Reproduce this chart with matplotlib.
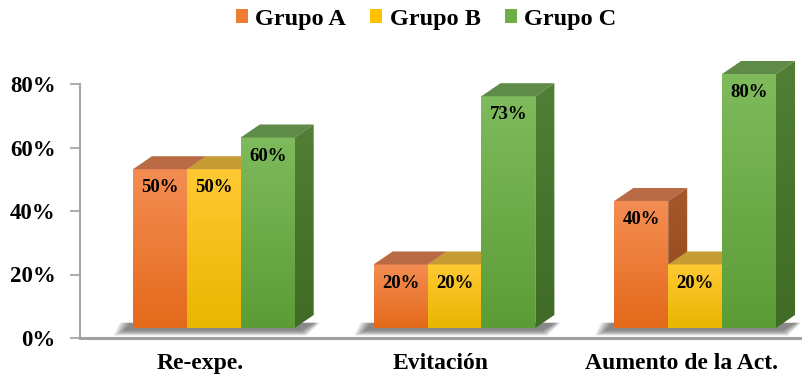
import matplotlib
matplotlib.use("Agg")
import matplotlib.pyplot as plt
import numpy as np
from matplotlib.patches import Polygon, Patch
from matplotlib.colors import LinearSegmentedColormap

# ---------------- data ----------------
categories = ["Re-expe.", "Evitación", "Aumento de la Act."]
series_names = ["Grupo A", "Grupo B", "Grupo C"]
grupo_a = [0.50, 0.20, 0.40]
grupo_b = [0.50, 0.20, 0.20]
grupo_c = [0.60, 0.73, 0.80]
y_ticks = [0.0, 0.2, 0.4, 0.6, 0.8]
y_tick_labels = ["0%", "20%", "40%", "60%", "80%"]

# ---------------- style ----------------
legend_colors = ["#ED7D31", "#FFC000", "#70AD47"]
front_top = ["#F48D53", "#FFC933", "#7FBA5C"]
front_bot = ["#E46A1B", "#E9B600", "#5C9C36"]
top_face = ["#B96B45", "#C69C35", "#5F8B48"]
side_top = ["#A6582C", "#B58E12", "#507F35"]
side_bot = ["#8E4718", "#9C7A05", "#3F6B25"]

FONT = "Liberation Serif"
plt.rcParams["font.family"] = [FONT, "DejaVu Serif"]
plt.rcParams["font.weight"] = "bold"

W, H = 802, 378
fig = plt.figure(figsize=(W / 100, H / 100), dpi=100)
ymax = 0.88
ax = fig.add_axes([80 / W, 40 / H, 722 / W, (0.88 * 317.5) / H])
ax.set_xlim(-0.5, 2.5)
ax.set_ylim(0, ymax)

bar_w = 0.224
shift = 0.056
dx = 0.079
dy = 0.041
floor = 0.0315


def grad_poly(verts, c1, c2, z):
    verts = np.asarray(verts)
    poly = Polygon(verts, closed=True, facecolor="none", edgecolor="none", zorder=z)
    ax.add_patch(poly)
    cmap = LinearSegmentedColormap.from_list("g", [c2, c1])
    x0, x1 = verts[:, 0].min(), verts[:, 0].max()
    y0, y1 = verts[:, 1].min(), verts[:, 1].max()
    grad = np.linspace(0, 1, 64).reshape(-1, 1)
    im = ax.imshow(grad, extent=[x0, x1, y0, y1], origin="lower", aspect="auto",
                   cmap=cmap, zorder=z, interpolation="bilinear")
    im.set_clip_path(poly)


series = [grupo_a, grupo_b, grupo_c]
z = 2
for i in range(len(categories)):
    gl = i + shift - 1.5 * bar_w
    gr = i + shift + 1.5 * bar_w
    # soft floor shadow
    n = 10
    for k in range(n):
        e = 0.005 * (n - k)
        ey = 0.0018 * (n - k)
        sh = Polygon([(gl - 0.03 - e, floor - 0.006 - ey), (gr + dx * 0.3 + e * 0.5, floor - 0.006 - ey),
                      (gr + dx + e * 0.5, floor + dy * 0.4), (gl - 0.005 - e, floor + dy * 0.4)],
                     closed=True, facecolor="#303030", edgecolor="none", alpha=0.08, zorder=z)
        ax.add_patch(sh)
    z += 1
    for j, vals in enumerate(series):
        v = vals[i]
        xl = i + shift + (j - 1.5) * bar_w
        xr = xl + bar_w
        top = floor + v
        # front face
        grad_poly([(xl, floor), (xr, floor), (xr, top), (xl, top)], front_top[j], front_bot[j], z)
        z += 1
        # top face
        ax.add_patch(Polygon([(xl, top), (xr, top), (xr + dx, top + dy), (xl + dx, top + dy)],
                             closed=True, facecolor=top_face[j], edgecolor="none", zorder=z))
        z += 1
        # side face
        grad_poly([(xr, floor), (xr + dx, floor + dy), (xr + dx, top + dy), (xr, top)],
                  side_top[j], side_bot[j], z)
        z += 1

# data labels
for i in range(len(categories)):
    for j, vals in enumerate(series):
        v = vals[i]
        xc = i + shift + (j - 1.0) * bar_w
        ax.annotate(f"{round(v * 100):d}%", xy=(xc, floor + v), xytext=(0, -13.5),
                    textcoords="offset points", ha="center", va="center",
                    fontsize=13.5, fontweight="bold", family=FONT, color="black", zorder=200)

ax.set_xlim(-0.5, 2.5)
ax.set_ylim(0, ymax)

# axes styling
for s in ["top", "right"]:
    ax.spines[s].set_visible(False)
ax.spines["left"].set_bounds(0, 0.8)
ax.spines["left"].set_color("#A6A6A6")
ax.spines["left"].set_linewidth(1.5)
ax.spines["bottom"].set_color("#A0A0A0")
ax.spines["bottom"].set_linewidth(2.2)
ax.spines["bottom"].set_zorder(300)

ax.set_yticks(y_ticks)
ax.set_yticklabels(y_tick_labels, fontsize=16.5, fontweight="bold", family=FONT)
ax.tick_params(axis="y", length=7, width=1.3, color="#A6A6A6", pad=10.5)
ax.set_xticks(range(len(categories)))
ax.set_xticklabels(categories, fontsize=17, fontweight="bold", family=FONT)
ax.tick_params(axis="x", length=0, pad=11)

handles = [Patch(facecolor=c, edgecolor="none") for c in legend_colors]
fig.legend(handles, series_names, loc="center", bbox_to_anchor=(426 / W, 1 - 19 / H), ncol=3,
           frameon=False, prop={"family": FONT, "weight": "bold", "size": 17.5},
           handlelength=0.5, handleheight=0.5, handletextpad=0.3, columnspacing=1.0)

fig.savefig("out.png", dpi=100, facecolor="white")
